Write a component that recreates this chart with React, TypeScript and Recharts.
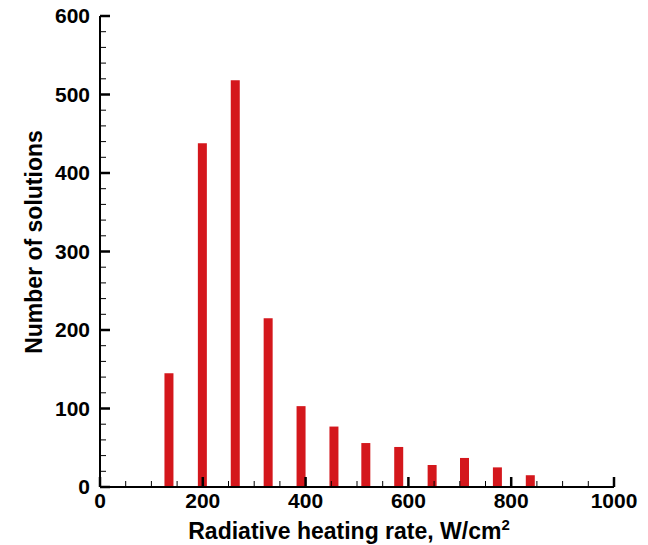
import { Bar, BarChart, Label, XAxis, YAxis } from 'recharts';

const heatingRates = [135, 200, 264, 328, 392, 456, 518, 582, 647, 710, 774, 838];
const solutionCounts = [145, 438, 518, 215, 103, 77, 56, 51, 28, 37, 25, 15];

const xTicks = [
	0, 50, 100, 150, 200, 250, 300, 350, 400, 450, 500, 550, 600, 650, 700, 750,
	800, 850, 900, 950, 1000,
];
const yTicks = [
	0, 20, 40, 60, 80, 100, 120, 140, 160, 180, 200, 220, 240, 260, 280, 300, 320,
	340, 360, 380, 400, 420, 440, 460, 480, 500, 520, 540, 560, 580, 600,
];

const data = heatingRates.map((rate, i) => ({
	rate,
	count: solutionCounts[i],
}));

const FONT = '"Liberation Sans", Arial, Helvetica, sans-serif';

type TickProps = {
	x: number;
	y: number;
	payload: { value: number };
};

function XTick({ x, y, payload }: TickProps) {
	const major = payload.value % 200 === 0;
	return (
		<g>
			<line
				x1={x}
				x2={x}
				y1={y}
				y2={y - (major ? 10 : 6)}
				stroke="#000"
				strokeWidth={major ? 2.5 : 1}
			/>
			{major && (
				<text
					x={x}
					y={y + 21}
					textAnchor="middle"
					fontFamily={FONT}
					fontWeight="bold"
					fontSize={21}
					fill="#000"
				>
					{payload.value}
				</text>
			)}
		</g>
	);
}

function YTick({ x, y, payload }: TickProps) {
	const major = payload.value % 100 === 0;
	return (
		<g>
			<line
				x1={x}
				x2={x + (major ? 10 : 6)}
				y1={y}
				y2={y}
				stroke="#000"
				strokeWidth={major ? 2.5 : 1}
			/>
			{major && (
				<text
					x={x - 10}
					y={y + 7}
					textAnchor="end"
					fontFamily={FONT}
					fontWeight="bold"
					fontSize={21}
					fill="#000"
				>
					{payload.value}
				</text>
			)}
		</g>
	);
}

function XTitle({ viewBox }: any) {
	const cx = viewBox.x + viewBox.width / 2 - 8;
	return (
		<text
			x={cx}
			y={539}
			textAnchor="middle"
			fontFamily={FONT}
			fontWeight="bold"
			fontSize={23}
			fill="#000"
		>
			Radiative heating rate, W/cm
			<tspan fontSize={15} dy={-9}>
				2
			</tspan>
		</text>
	);
}

function YTitle() {
	return (
		<text
			x={34}
			y={242}
			transform="rotate(-90, 34, 242)"
			textAnchor="middle"
			fontFamily={FONT}
			fontWeight="bold"
			fontSize={23}
			fill="#000"
		>
			Number of solutions
		</text>
	);
}

export default function App() {
	return (
		<div style={{ marginTop: -8 }}>
			<BarChart
				width={640}
				height={545}
				data={data}
				margin={{ top: 16, right: 34, left: 0, bottom: 0 }}
			>
				<XAxis
					dataKey="rate"
					type="number"
					domain={[0, 1000]}
					ticks={xTicks}
					interval={0}
					height={58}
					tickSize={0}
					tickMargin={0}
					tickLine={false}
					axisLine={{ stroke: '#000', strokeWidth: 2 }}
					tick={(props: any) => <XTick {...props} />}
				>
					<Label content={(props: any) => <XTitle {...props} />} />
				</XAxis>
				<YAxis
					type="number"
					domain={[0, 600]}
					ticks={yTicks}
					interval={0}
					width={92}
					tickSize={0}
					tickMargin={0}
					tickLine={false}
					axisLine={{ stroke: '#000', strokeWidth: 2 }}
					tick={(props: any) => <YTick {...props} />}
				>
					<Label content={() => <YTitle />} />
				</YAxis>
				<Bar
					dataKey="count"
					fill="#d4171c"
					barSize={9}
					isAnimationActive={false}
				/>
			</BarChart>
		</div>
	);
}
